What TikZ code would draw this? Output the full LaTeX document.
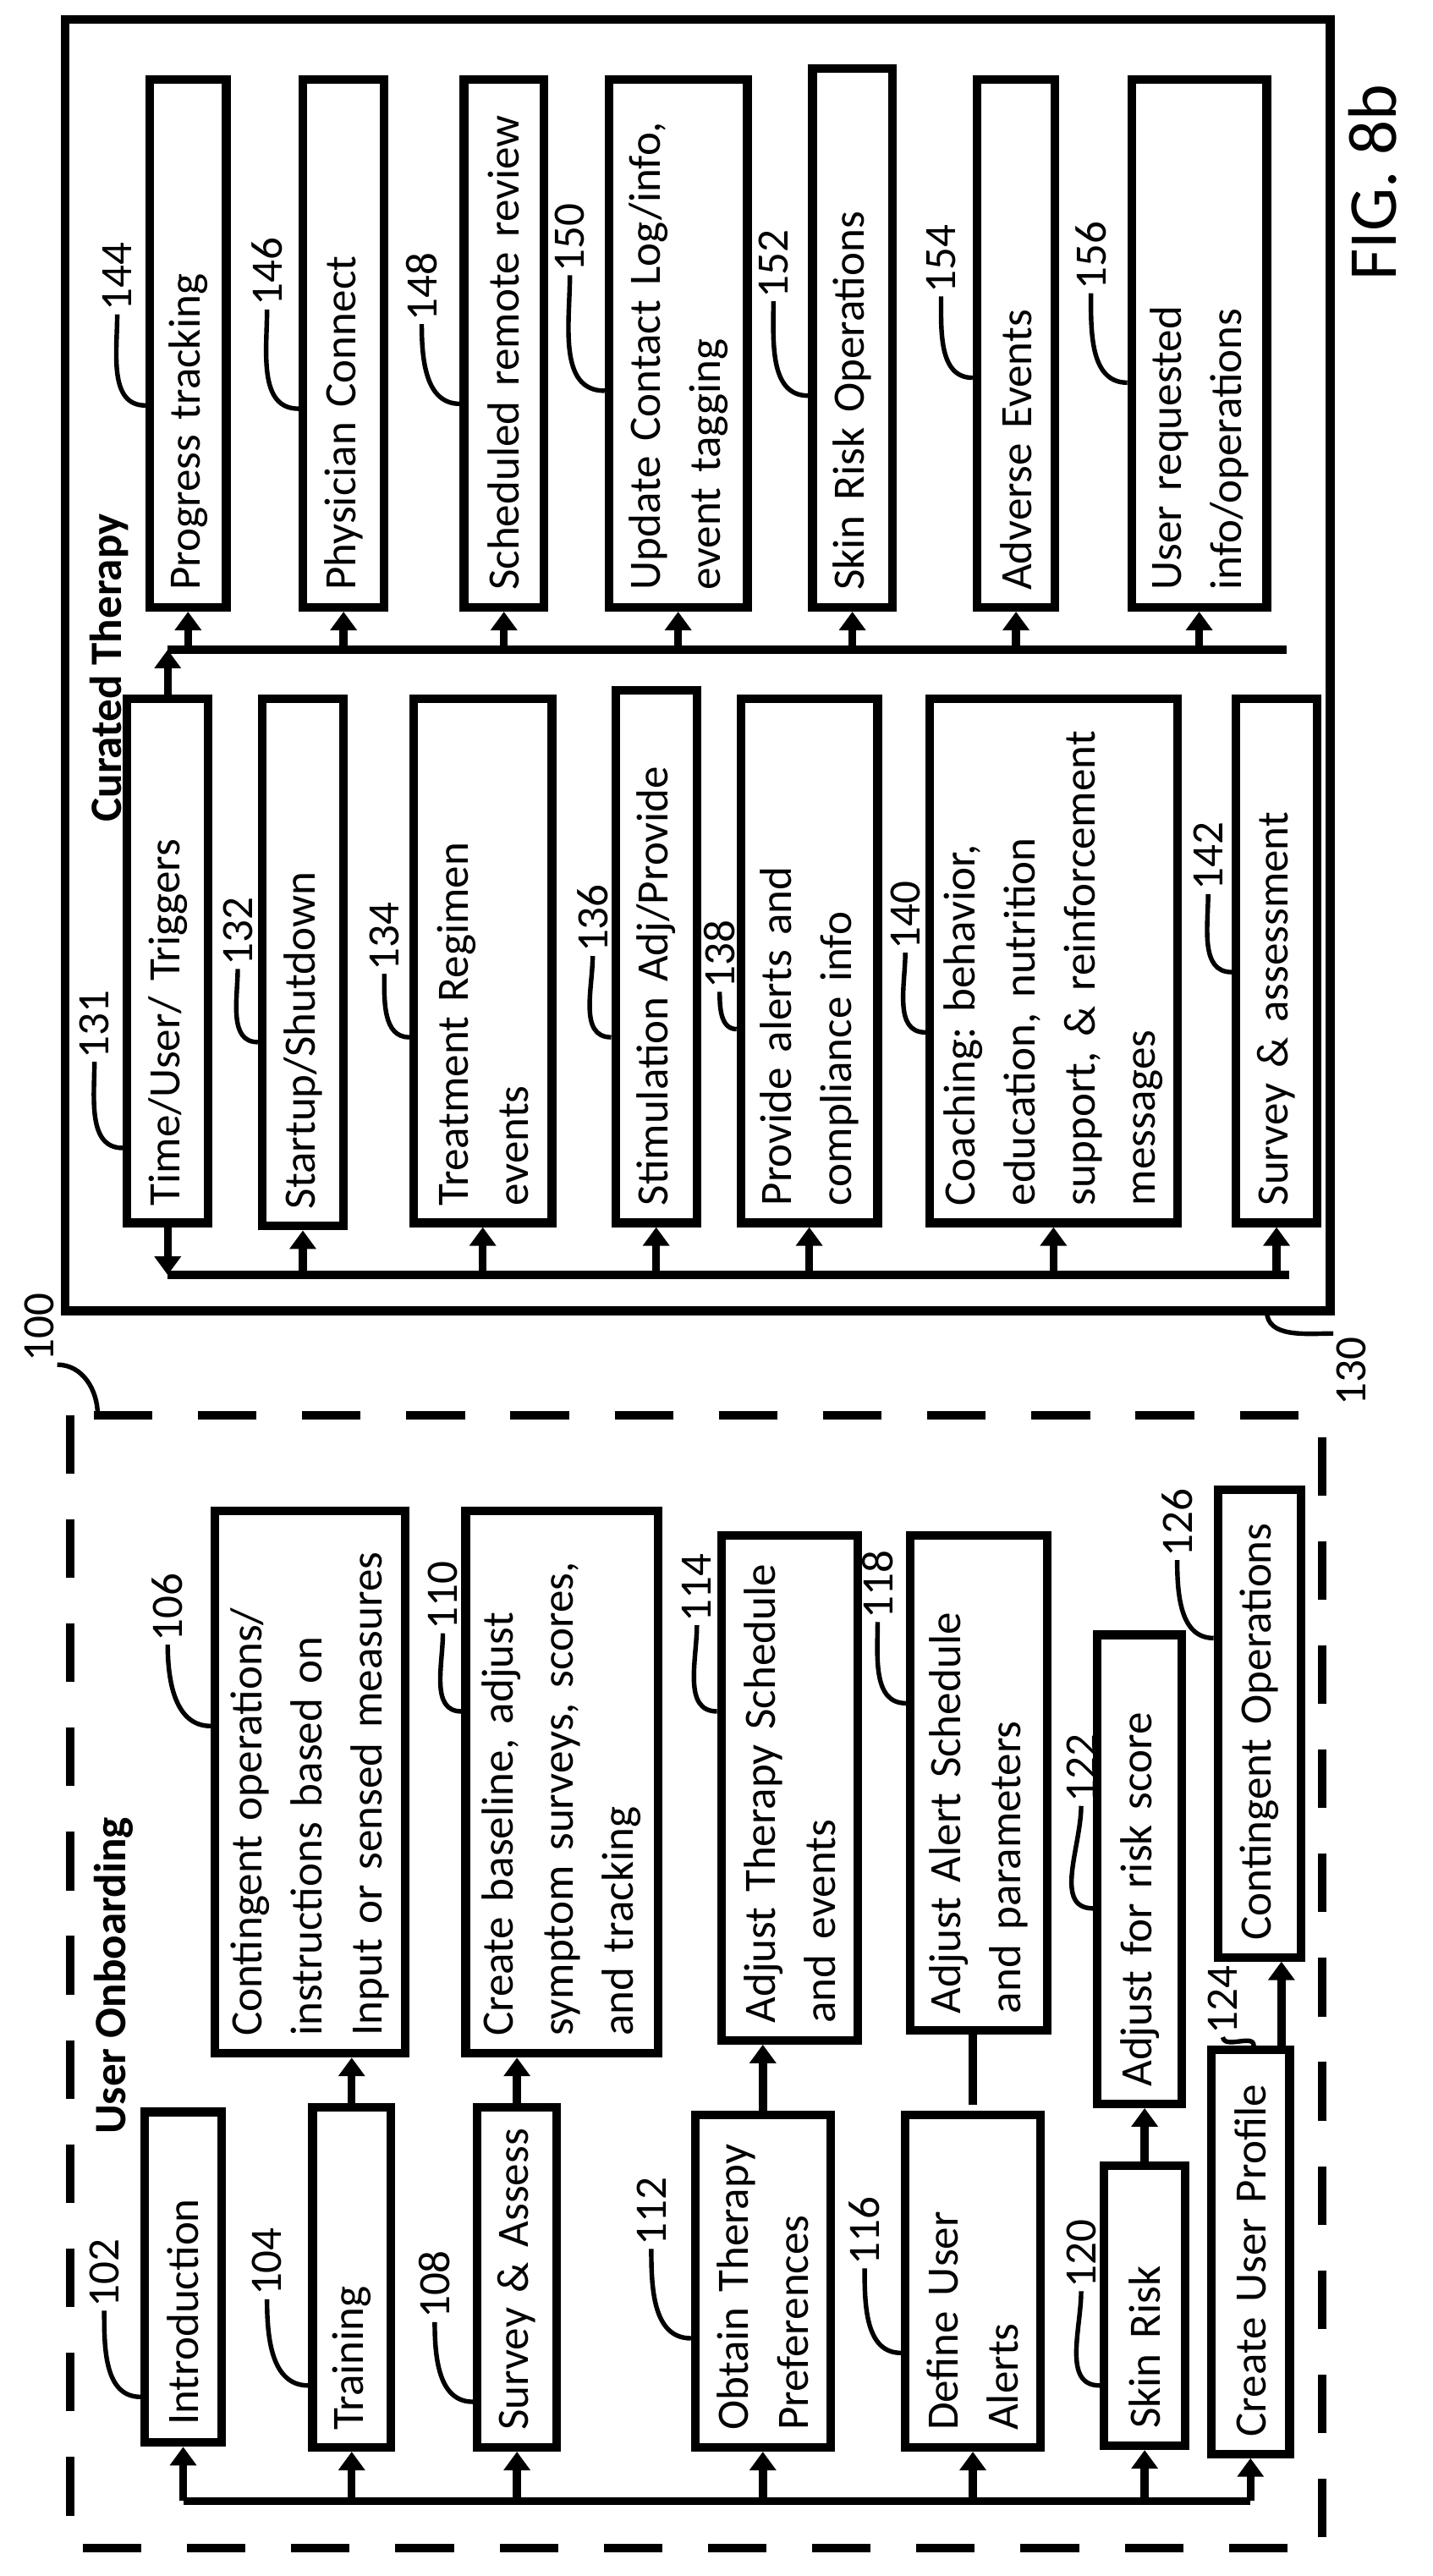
\documentclass[tikz,border=0pt]{standalone}
\usepackage{fontspec}
\setmainfont{Carlito}
\usetikzlibrary{positioning,arrows.meta,calc}
\newcommand\boxfont{\fontsize{15.7}{21}\selectfont\frenchspacing\hyphenpenalty=10000\exhyphenpenalty=10000}
\tikzset{
  box/.style 2 args={draw, line width=3pt, rotate=90, align=left, inner sep=0pt,
    /utils/exec={\pgfmathsetlengthmacro\bw{#1*0.02cm-0.42cm}}, text width=\bw,
    minimum width=#1*0.02cm, minimum height=#2*0.02cm, font=\boxfont},
  lbl/.style={rotate=90, inner sep=1pt, font=\boxfont},
  ttl/.style={rotate=90, anchor=west, inner sep=0pt, font=\boxfont\bfseries},
  lead/.style={line width=1.6pt},
  bus/.style={line width=2.8pt},
  arr/.style={line width=2.8pt, -{Triangle[width=9pt,length=6.5pt]}},
}
\begin{document}
\begin{tikzpicture}[x=0.02cm, y=-0.02cm]
  \useasboundingbox (0,0) rectangle (880,1582);
  % frames
  \draw[line width=3pt] (40,12) rectangle (817,805);
  \draw[line width=3pt, dash pattern=on 0.72cm off 0.56cm] (43,869) rectangle (812,1565);
  \node[ttl] at (67,505) {Curated Therapy};
  \node[ttl] at (70,1311) {User Onboarding};
  \node[rotate=90, font=\fontsize{24}{28}\selectfont] (fig) at (843,112) {FIG. 8b};

  % curated therapy, upper row
  \node[box={324}{47}] (b144) at (115.5,211) {Progress tracking};
  \node[box={324}{50}] (b146) at (211,211) {Physician Connect};
  \node[box={324}{49}] (b148) at (309.5,211) {Scheduled remote review};
  \node[box={324}{85}] (b150) at (416.5,211) {Update Contact Log/info,\\event tagging};
  \node[box={331}{49}] (b152) at (523.5,207.5) {Skin Risk Operations};
  \node[box={324}{48}] (b154) at (624,211) {Adverse Events};
  \node[box={324}{83}] (b156) at (736.5,211) {User requested\\info/operations};
  % curated therapy, lower row
  \node[box={322}{50}] (b131) at (103,590) {Time/User/ Triggers};
  \node[box={324}{50}] (b132) at (186,591) {Startup/Shutdown};
  \node[box={322}{85}] (b134) at (296.5,590) {Treatment Regimen\\events};
  \node[box={327}{50}] (b136) at (403,587.5) {Stimulation Adj/Provide};
  \node[box={322}{84}] (b138) at (497,590) {Provide alerts and\\compliance info};
  \node[box={322}{152}] (b140) at (647,590) {Coaching: behavior,\\education, nutrition\\support, \& reinforcement\\messages};
  \node[box={322}{50}] (b142) at (784,590) {Survey \& assessment};

  % user onboarding, lower row
  \node[box={203}{47}] (b102) at (112.5,1398.5) {Introduction};
  \node[box={209}{48}] (b104) at (216,1398.5) {Training};
  \node[box={209}{49}] (b108) at (317.5,1398.5) {Survey \& Assess};
  \node[box={204}{83}] (b112) at (468.5,1401) {Obtain Therapy\\Preferences};
  \node[box={204}{83}] (b116) at (597.5,1401) {Define User\\Alerts};
  \node[box={172}{50}] (b120) at (703,1416) {Skin Risk};
  \node[box={248}{48}] (b124) at (768,1383) {Create User Profile};
  % user onboarding, upper row
  \node[box={333}{117}] (b106) at (190.5,1094.5) {Contingent operations/\\instructions based on\\Input or sensed measures};
  \node[box={333}{118}] (b110) at (345,1094.5) {Create baseline, adjust\\symptom surveys, scores,\\and tracking};
  \node[box={310}{84}] (b114) at (485,1098) {Adjust Therapy Schedule\\and events};
  \node[box={304}{84}] (b118) at (601,1095) {Adjust Alert Schedule\\and parameters};
  \node[box={288}{52}] (b122) at (700,1148) {Adjust for risk score};
  \node[box={287}{51}] (b126) at (773.5,1058.5) {Contingent Operations};

  % busses
  \coordinate (busCT) at (0,399);
  \coordinate (busCB) at (0,783);
  \coordinate (busOB) at (0,1536);
  \coordinate (busEnd) at (790,399);
  \draw[bus] (b131.west |- busCB) -- ([xshift=0.16cm]b142.west |- busCB);
  \draw[arr] (b131.west) -- (b131.west |- busCB);
  \foreach \n in {132,134,136,138,140,142}
    \draw[arr] (b\n.west |- busCB) -- (b\n.west);
  \draw[arr] (b131.east) -- (b131.east |- busCT);
  \draw[bus] (b131.east |- busCT) -- (busEnd);
  \foreach \n in {144,146,148,150,152,154,156}
    \draw[arr] (b\n.west |- busCT) -- (b\n.west);
  \draw[bus] (b102.west |- busOB) -- (b124.west |- busOB);
  \foreach \n in {102,104,108,112,116,120,124}
    \draw[arr] (b\n.west |- busOB) -- (b\n.west);
  \draw[arr] (b104.east) -- (b104.east |- b106.west);
  \draw[arr] (b108.east) -- (b108.east |- b110.west);
  \draw[arr] (b112.east) -- (b112.east |- b114.west);
  \draw[bus] (b116.east |- b118.west) -- ++(0,43);
  \draw[arr] (b120.east) -- (b120.east |- b122.west);
  \draw[arr] ([xshift=0.38cm]b124.east) -- ([xshift=0.38cm]b124.east |- b126.west);

  % reference numerals
  \foreach \n/\lx/\ly/\ty in {144/72/170/249, 146/164/167/251, 148/259/176/248,
      150/350/146/240, 152/475/162/243, 154/578/159/232, 156/670/157/235,
      131/58/629/705, 132/146/572/640, 134/236/575/637, 136/364/564/637,
      138/442/586/632, 140/556/562/634, 142/742/526/597,
      102/64/1396/1472, 104/164/1389/1465, 108/267/1403/1475, 112/400/1358/1436,
      116/531/1370/1445, 120/664/1384/1465, 106/103/987/1060, 110/272/980/1051,
      114/428/975/1051, 118/539/973/1046, 122/664/1086/1172, 126/723/935/1006}{
    \node[lbl] (l\n) at (\lx,\ly) {\n};
    \draw[lead] (l\n.west) to[out=-90,in=180] (b\n.north |- 0,\ty);
  }
  \node[lbl] (l124) at (751,1228) {124};
  \draw[lead] (l124.west) to[out=-80,in=90] ([xshift=0.04cm]b124.east);
  \node[lbl] (l100) at (24,815) {100};
  \coordinate (c100) at (60,869);
  \draw[lead] (l100.south west) to[out=0,in=90] (c100);
  \node[lbl] (l130) at (830,842) {130};
  \coordinate (c130) at (778,805);
  \draw[lead] (c130) to[out=-90,in=180] (l130.north east);
\end{tikzpicture}
\end{document}
